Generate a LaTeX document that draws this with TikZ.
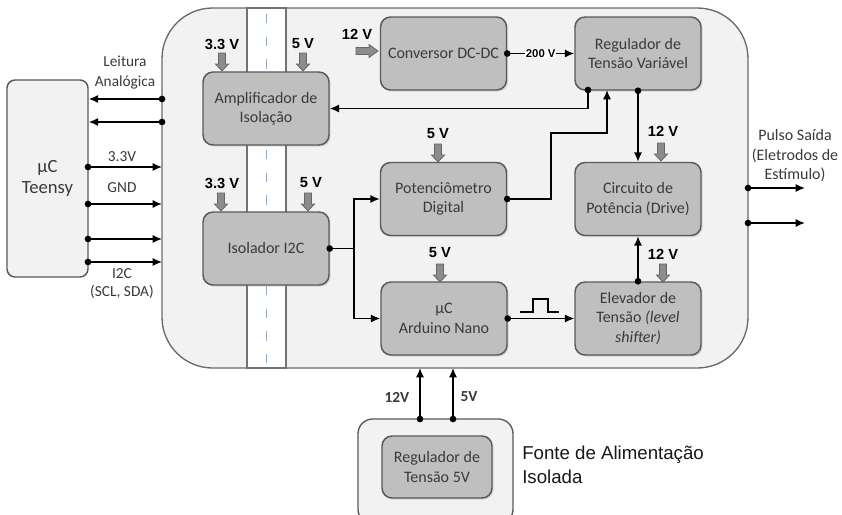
\documentclass[tikz,border=0pt]{standalone}
\usepackage{fontspec}
\setmainfont{Carlito}
\newfontfamily\arialf{Liberation Sans}
\usetikzlibrary{arrows.meta,shadows,calc}
\definecolor{boxfill}{HTML}{BFBFBF}
\definecolor{boxline}{HTML}{595959}
\definecolor{panel}{HTML}{F2F2F2}
\definecolor{txt}{HTML}{3A3A3A}
\definecolor{pwr}{HTML}{8C8C8C}
\definecolor{pwrline}{HTML}{666666}
\definecolor{dashc}{HTML}{8FAAC4}
\begin{document}
\begin{tikzpicture}[x=0.75pt,y=-0.75pt,
  box/.style={draw=boxline, line width=1.1pt, fill=boxfill, rounded corners=7.5pt,
    minimum width=94.5pt, minimum height=54.75pt, align=center, text=txt,
    font=\fontsize{12}{14.5}\selectfont, inner sep=2pt,
    drop shadow={shadow xshift=1.2pt, shadow yshift=-1.2pt, opacity=0.25}},
  conn/.style={line width=1.1pt, -{Latex[length=7pt,width=6pt]}},
  wire/.style={line width=1.1pt},
  dot/.style={circle, fill=black, inner sep=0pt, minimum size=5pt},
  vlab/.style={font=\arialf\bfseries\fontsize{11}{13}\selectfont, text=black, inner sep=0pt},
  slab/.style={font=\fontsize{11.5}{14}\selectfont, text=txt, align=center, inner sep=0pt},
  pwrd/.pic={\draw[draw=pwrline, fill=pwr, line width=0.6pt]
     (-3.5,0) -- (3.5,0) -- (3.5,11) -- (6.5,11) -- (0,18) -- (-6.5,11) -- (-3.5,11) -- cycle;},
  pwrr/.pic={\draw[draw=pwrline, fill=pwr, line width=0.6pt]
     (0,-3.5) -- (0,3.5) -- (13,3.5) -- (13,6.5) -- (22,0) -- (13,-6.5) -- (13,-3.5) -- cycle;}
]
\clip (0,0) rectangle (842,514);
\fill[white] (0,0) rectangle (842,514);

% main panel
\draw[draw=boxline!90, fill=panel, line width=1pt, rounded corners=38pt] (162,8) rectangle (748,368);
% isolation strip
\draw[draw=boxline!85, fill=white, line width=0.9pt] (247,8) rectangle (286,368);
\draw[dashc, line width=1.3pt, dash pattern=on 7pt off 10pt] (266.5,14) -- (266.5,368);

% Teensy
\node[draw=boxline, line width=1.1pt, fill=panel, rounded corners=6pt,
  minimum width=60.75pt, minimum height=147.75pt, align=center, text=txt,
  font=\fontsize{14}{16}\selectfont] (teensy) at (47.5,178.5) {µC\\Teensy};

% power supply
\draw[draw=boxline, fill=panel, line width=1pt, rounded corners=11pt] (358,419) rectangle (513,524);
\node[box, minimum width=82.5pt, minimum height=46.5pt] (reg5) at (437,467) {Regulador de\\Tensão 5V};
\node[font=\arialf\fontsize{14}{18}\selectfont, text=black!90, align=left, anchor=west, inner sep=0pt] (fonte) at (522,465) {Fonte de Alimentação\\Isolada};

% blocks
\node[box] (amp) at (266,108.5) {Amplificador de\\Isolação};
\node[box] (iso) at (266,248.5) {Isolador I2C};
\node[box] (conv) at (443.5,53.5) {Conversor DC-DC};
\node[box] (reg) at (638,53.5) {Regulador de\\Tensão Variável};
\node[box] (pot) at (443.5,199) {Potenciômetro\\Digital};
\node[box] (cir) at (638,199) {Circuito de\\Potência (Drive)};
\node[box] (ard) at (444,318.5) {µC\\Arduino Nano};
\node[box] (ele) at (638,318.5) {Elevador de\\Tensão \textit{(level}\\\textit{shifter)}};

% power arrows and labels
\pic at (222,53) {pwrd}; \node[vlab] (va1) at (222,44) {3.3 V};
\pic at (303,53) {pwrd}; \node[vlab] (va2) at (303,44) {5 V};
\pic at (221,193) {pwrd}; \node[vlab] (vi1) at (222,183) {3.3 V};
\pic at (308,193) {pwrd}; \node[vlab] (vi2) at (311,183) {5 V};
\pic at (356,51) {pwrr}; \node[vlab] (vc) at (357,34) {12 V};
\pic at (438,144) {pwrd}; \node[vlab] (vp) at (438,134) {5 V};
\pic at (661,143) {pwrd}; \node[vlab] (vr) at (663,131) {12 V};
\pic at (440,264) {pwrd}; \node[vlab] (vd) at (440,253) {5 V};
\pic at (663,264) {pwrd}; \node[vlab] (ve) at (663,254) {12 V};

% coordinates
\coordinate (regout) at (588,90);
\coordinate (regin) at (607,90);
\coordinate (pbend) at (551,133);
\coordinate (jn) at (354,248.5);
\coordinate (t1) at (162,99);
\coordinate (t2) at (162,122);
\coordinate (t3) at (88,167);
\coordinate (t4) at (88,204);
\coordinate (t5) at (88,239);
\coordinate (t6) at (88,262);
\coordinate (o1) at (748,188);
\coordinate (o1e) at (805,188);
\coordinate (o2) at (748,223);
\coordinate (o2e) at (805,223);
\coordinate (f1) at (420,419);
\coordinate (f1e) at (420,368);
\coordinate (f2) at (453,419);
\coordinate (f2e) at (453,368);

% connectors
\draw[conn] (regout) |- (amp.east);
\draw[conn] (pot.east) -| (pbend) -| (regin);
\draw[conn] (reg.south) -- (cir.north);
\draw[conn] (ele.north) -- (cir.south);
\draw[conn] (conv.east) -- node[fill=white, inner sep=0.5pt, font=\arialf\bfseries\fontsize{8.5}{10}\selectfont] (v200) {200 V} (reg.west);
\draw[wire] (iso.east) -- (jn);
\draw[conn] (jn) |- (pot.west);
\draw[conn] (jn) |- (ard.west);
\draw[conn] (ard.east) -- (ele.west);
\draw[line width=0.9pt] (520,312) -- (533,312) -- (533,299) -- (548,299) -- (548,312) -- (559,312);

\draw[conn] (t1) -- (teensy.east |- t1);
\draw[conn] (t2) -- (teensy.east |- t2);
\draw[conn] (t3) -- (t3 -| t1);
\draw[conn] (t4) -- (t4 -| t1);
\draw[conn] (t5) -- (t5 -| t1);
\draw[conn] (t6) -- (t6 -| t1);
\draw[conn] (o1) -- (o1e);
\draw[conn] (o2) -- (o2e);
\draw[conn] (f1) -- (f1e);
\draw[conn] (f2) -- (f2e);

% dots
\foreach \p in {regout, reg.south, pot.east, ele.north, conv.east, iso.east, ard.east, t1, t2, t3, t4, t5, t6, o1, o2, f1, f2}
  \node[dot] at (\p) {};

% side labels
\node[slab, font=\fontsize{11.5}{15}\selectfont] (lei) at (125,73) {Leitura\\Analógica};
\node[slab] (l33) at (122,157) {3.3V};
\node[slab] (lgnd) at (122,188) {GND};
\node[slab, font=\fontsize{11.5}{13.5}\selectfont] (li2c) at (122,284) {I2C\\(SCL, SDA)};
\node[slab, font=\fontsize{12}{14.6}\selectfont] (lpul) at (795,156) {Pulso Saída\\(Eletrodos de\\Estímulo)};
\node[font=\bfseries\fontsize{11.5}{13}\selectfont, text=txt] (l12) at (397,397) {12V};
\node[font=\bfseries\fontsize{11.5}{13}\selectfont, text=txt] (l5) at (469,397) {5V};
\end{tikzpicture}
\end{document}
